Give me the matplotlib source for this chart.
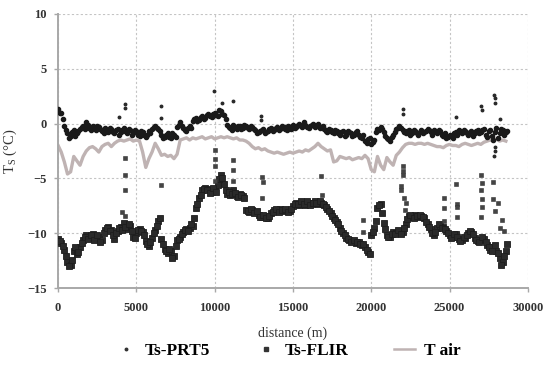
import numpy as np
import matplotlib.pyplot as plt

plt.rcParams['font.family'] = ['Liberation Serif', 'DejaVu Serif']

# surface temperatures, two interleaved samplings 100 m apart (200 m each)
step = 200
ts_prt5 = [1.3, 1.0, -0.2, -0.9, -1.1, -0.6, -0.9, -0.5, -0.2, 0.1,
           -0.4, -0.2, -0.6, -0.3, -0.7, -0.4, -0.8, -0.5, -0.9, -0.5,
           -0.8, -0.4, -0.9, -0.6, -0.9, -0.7, -1.1, -0.8, -1.2, -0.7,
           -0.5, -0.2, -0.5, -1.0, -1.2, -0.9, -1.3, -1.0, -0.3, 0.1,
           -0.4, -0.7, -0.2, 0.2, 0.5, 0.3, 0.7, 0.5, 0.9, 0.6,
           1.0, 0.7, 1.1, 0.8, -0.1, -0.4, -0.1, -0.5, -0.2, -0.4,
           -0.2, -0.5, -0.3, -0.6, -0.8, -0.6, -0.9, -0.7, -0.4, -0.6,
           -0.3, -0.5, -0.3, -0.6, -0.3, -0.1, -0.3, 0.0, -0.3, -0.1,
           -0.4, -0.1, -0.3, 0.0, -0.3, -0.5, -0.8, -0.6, -0.9, -0.7,
           -1.0, -0.7, -1.0, -0.8, -1.1, -0.8, -1.0, -1.3, -1.6, -1.4,
           -1.9, -1.5, -0.5, -0.3, -0.8, -1.3, -1.6, -1.0, -0.5, -0.2,
           -0.6, -0.9, -0.6, -0.9, -0.7, -1.0, -0.6, -0.8, -0.5, -0.8,
           -0.6, -0.9, -0.7, -1.1, -1.3, -1.0, -1.3, -0.8, -0.6, -0.9,
           -0.7, -1.0, -0.7, -0.9, -0.6, -0.8, -0.5, -1.2, -0.6, -1.5,
           -0.4, -0.9, -0.6, -0.8]
ts_prt5_b = [1.0, 0.4, -0.6, -1.3, -0.8, -1.1, -0.7, -0.3, -0.5, -0.1,
             -0.6, -0.4, -0.2, -0.5, -0.9, -0.6, -0.4, -0.8, -0.6, -1.0,
             -0.6, -0.7, -0.5, -1.0, -0.6, -1.0, -0.7, -1.0, -1.0, -0.9,
             -0.3, -0.4, -0.7, -1.3, -1.0, -1.2, -0.9, -1.2, -0.1, -0.2,
             -0.6, -0.4, -0.4, 0.4, 0.2, 0.6, 0.4, 0.8, 0.7, 0.9,
             0.8, 1.2, 0.9, 0.4, -0.3, -0.6, -0.3, -0.2, -0.5, -0.1,
             -0.4, -0.2, -0.5, -0.9, -0.7, -0.5, -0.8, -0.5, -0.7, -0.4,
             -0.6, -0.2, -0.5, -0.2, -0.5, -0.4, -0.1, -0.2, 0.1, -0.3,
             -0.2, 0.0, -0.2, -0.4, -0.2, -0.7, -0.5, -0.8, -0.6, -0.9,
             -0.8, -1.1, -0.7, -0.9, -1.0, -0.7, -1.2, -1.0, -1.8, -1.3,
             -1.7, -0.8, -0.6, -0.5, -1.1, -1.4, -1.2, -0.8, -0.4, -0.4,
             -0.8, -0.7, -1.0, -0.6, -0.9, -0.8, -0.9, -0.7, -0.6, -1.0,
             -0.7, -0.6, -1.0, -0.9, -1.2, -1.1, -0.9, -1.0, -0.8, -0.6,
             -0.9, -0.8, -1.1, -0.7, -0.9, -0.6, -1.0, -0.7, -1.1, -0.8,
             -1.3, -0.5, -1.0, -0.7]

ts_flir = [-10.5, -10.9, -11.5, -12.6, -12.9, -11.6, -11.9, -11.3, -10.6, -10.2,
           -10.4, -10.1, -10.5, -10.3, -10.6, -9.7, -9.4, -9.7, -10.5, -9.8,
           -9.4, -9.1, -9.6, -9.3, -10.3, -10.0, -9.6, -9.9, -10.7, -11.2,
           -10.4, -9.7, -8.9, -10.5, -11.4, -11.8, -11.6, -12.1, -10.6, -10.3,
           -9.9, -9.6, -9.5, -9.3, -7.7, -6.8, -6.1, -5.9, -6.0, -6.2,
           -6.1, -5.6, -4.7, -5.5, -6.4, -6.5, -6.1, -6.6, -6.4, -6.6,
           -7.9, -8.1, -7.9, -8.1, -8.3, -8.5, -8.4, -8.6, -8.2, -7.9,
           -8.0, -7.8, -8.0, -7.9, -8.0, -7.5, -7.2, -7.4, -7.2, -7.4,
           -7.2, -7.3, -7.1, -7.3, -7.2, -7.4, -7.8, -8.2, -8.6, -9.0,
           -9.5, -10.0, -10.4, -10.6, -10.7, -10.9, -10.8, -11.1, -11.3, -11.7,
           -10.2, -9.5, -7.7, -7.3, -9.1, -10.2, -10.3, -9.9, -10.0, -9.8,
           -9.9, -9.2, -8.4, -8.5, -8.3, -8.5, -8.4, -8.6, -9.2, -9.6,
           -10.2, -9.5, -9.3, -9.4, -9.8, -10.2, -10.3, -10.1, -10.5, -10.6,
           -10.4, -10.0, -9.9, -10.4, -10.7, -10.6, -10.5, -11.1, -11.5, -11.3,
           -11.6, -12.3, -12.6, -11.6]
ts_flir_b = [-10.7, -11.2, -12.1, -13.0, -12.4, -11.3, -11.7, -10.9, -10.3, -10.5,
             -10.2, -10.6, -10.2, -10.8, -10.0, -9.5, -9.8, -10.2, -10.0, -9.5,
             -9.7, -9.4, -9.2, -9.8, -10.4, -9.7, -9.8, -10.2, -11.0, -10.8,
             -10.0, -9.3, -8.6, -11.0, -11.6, -11.4, -12.3, -11.2, -10.5, -10.1,
             -9.7, -9.8, -9.2, -8.6, -7.3, -6.5, -6.0, -6.1, -6.3, -5.9,
             -6.2, -5.1, -5.0, -6.1, -6.2, -6.4, -6.3, -6.7, -6.5, -6.8,
             -8.0, -7.8, -8.2, -8.0, -8.5, -8.3, -8.6, -8.4, -8.1, -7.8,
             -8.1, -7.9, -7.8, -8.1, -7.8, -7.3, -7.3, -7.1, -7.3, -7.1,
             -7.4, -7.2, -7.2, -7.1, -7.3, -7.6, -8.0, -8.4, -8.8, -9.2,
             -9.8, -10.2, -10.5, -10.8, -10.6, -10.8, -11.0, -11.0, -11.5, -11.9,
             -9.9, -8.9, -7.4, -8.2, -9.6, -10.3, -10.1, -10.1, -9.7, -10.1,
             -9.5, -8.7, -8.3, -8.6, -8.4, -8.3, -8.5, -9.0, -9.4, -10.0,
             -9.9, -9.2, -9.5, -9.6, -10.0, -10.4, -10.1, -10.3, -10.7, -10.3,
             -10.2, -9.8, -10.1, -10.6, -10.8, -10.3, -10.8, -11.3, -11.6, -11.1,
             -11.8, -12.9, -12.1, -11.0]

t_air = [-2.0, -2.6, -3.5, -4.6, -4.4, -3.0, -3.4, -3.8, -3.0, -2.5,
         -2.2, -2.1, -2.3, -2.6, -2.1, -1.9, -1.8, -2.1, -1.8, -1.6,
         -1.5, -1.6, -1.5, -1.4, -1.6, -1.5, -1.6, -2.6, -4.0, -3.2,
         -2.6, -1.8, -2.3, -2.9, -2.8, -3.0, -2.9, -3.2, -2.8, -1.5,
         -1.4, -1.3, -1.5, -1.3, -1.4, -1.3, -1.2, -1.4, -1.3, -1.2,
         -1.4, -1.3, -1.2, -1.3, -1.2, -1.3, -1.4, -1.3, -1.5, -1.5,
         -1.6, -1.8, -2.1, -2.3, -2.2, -2.4, -2.3, -2.5, -2.6, -2.7,
         -2.6, -2.7, -2.8, -2.7, -2.6, -2.7, -2.6, -2.5, -2.6, -2.4,
         -2.5, -2.3, -2.1, -1.8, -2.1, -2.3, -2.5, -2.4, -3.5, -3.4,
         -3.0, -3.1, -3.2, -3.1, -3.3, -3.2, -3.1, -3.2, -2.9, -3.2,
         -4.2, -4.4, -3.0, -3.8, -4.2, -3.1, -3.5, -3.8, -2.9, -2.6,
         -2.2, -1.9, -1.8, -1.8, -1.9, -1.8, -1.8, -1.9, -1.8, -1.9,
         -2.0, -2.1, -2.1, -2.2, -2.0, -1.9, -2.0, -2.0, -2.1, -1.9,
         -1.8, -1.9, -2.0, -1.9, -1.8, -1.9, -1.7, -1.6, -1.5, -1.6,
         -1.4, -1.6, -1.5, -1.6]

# isolated points away from the main bands
prt5_out_x = [3900, 4250, 4250, 6550, 6550, 9950, 10500, 11150, 12950, 12950,
              22000, 22050, 25400, 27000, 27100, 27850, 27900, 27880, 27900,
              27850, 27900, 28200]
prt5_out_y = [0.6, 1.8, 1.4, 1.6, 0.5, 3.0, 1.9, 2.1, 0.7, 0.3,
              1.3, 0.9, 0.6, 1.6, 1.2, 2.6, 2.3, 1.9, -2.5, -3.0, -2.1, 0.4]

flir_out_x = [4250, 4250, 4250, 4100, 4300, 6550, 10000, 10000, 10000, 10000,
              11200, 11200, 11200, 13000, 13100, 13000, 16800, 16850, 19500, 19500,
              22000, 22000, 22000, 21900, 21900, 22100, 22200, 22150, 24650, 24650,
              24650, 25400, 25450, 25450, 25450, 27000, 27050, 27000, 27100, 27050,
              27000, 27800, 27750, 27900, 28200, 28350, 28100, 28500]
flir_out_y = [-3.1, -4.7, -6.1, -8.1, -8.4, -5.6, -2.4, -3.2, -3.9, -5.2,
              -3.3, -4.2, -5.2, -4.9, -5.3, -6.8, -4.8, -6.5, -8.8, -9.9,
              -3.9, -4.3, -4.7, -5.7, -6.1, -6.8, -7.2, -7.9, -6.8, -7.7,
              -8.9, -5.5, -7.3, -7.6, -8.5, -4.7, -5.4, -6.1, -6.9, -7.6,
              -8.5, -5.3, -6.9, -8.0, -9.5, -8.8, -7.2, -9.8]

dist = np.arange(len(ts_prt5)) * step
dist_b = dist + step / 2

fig = plt.figure(figsize=(5.43, 3.66), dpi=100)
ax = fig.add_axes([0.107, 0.213, 0.865, 0.749])

ax.plot(dist, t_air, color='#bfb3b3', lw=2.4, zorder=2)
for x, y in [(dist, ts_flir), (dist_b, ts_flir_b)]:
    ax.plot(x, y, ls='none', marker='s', ms=4.0, mec='#1e1e1e', mfc='#2a2a2a',
            mew=0.6, zorder=3)
ax.plot(flir_out_x, flir_out_y, ls='none', marker='s', ms=2.2, mec='#333333',
        mfc='#444444', mew=0.4, zorder=3)
for x, y in [(dist, ts_prt5), (dist_b, ts_prt5_b)]:
    ax.plot(x, y, ls='none', marker='o', ms=3.0, color='#1a1a1a', zorder=4)
ax.plot(prt5_out_x, prt5_out_y, ls='none', marker='o', ms=1.8, color='#2a2a2a', zorder=4)

ax.set_xlim(0, 30000)
ax.set_ylim(-15, 10)
ax.set_xticks(range(0, 30001, 5000))
ax.set_yticks(range(-15, 11, 5))
ax.grid(True, ls=(0, (2, 2)), color='#c4c4c4', lw=0.8)
ax.set_axisbelow(True)
for s in ['top', 'right']:
    ax.spines[s].set_visible(False)
for s in ['left', 'bottom']:
    ax.spines[s].set_color('#a8a8a8')
    ax.spines[s].set_linewidth(1.4)
ax.tick_params(colors='#a8a8a8', labelcolor='#333333', labelsize=9, length=3, width=1)
ax.tick_params(axis='x', pad=7)
ax.tick_params(axis='y', pad=5)
for lab in ax.get_xticklabels() + ax.get_yticklabels():
    lab.set_fontweight('bold')

ax.set_xlabel('distance (m)', fontsize=10, color='#333333', labelpad=9)
ax.set_ylabel('T$_\\mathregular{S}$ (°C)', fontsize=10.5, color='#333333', labelpad=6)

h1, = ax.plot([], [], ls='none', marker='o', ms=1.8, color='#333333')
h2, = ax.plot([], [], ls='none', marker='s', ms=2.4, color='#333333')
h3, = ax.plot([], [], color='#bfb3b3', lw=1.8)
fig.legend([h1, h2, h3], ['Ts-PRT5', 'Ts-FLIR', 'T air'], loc='center',
           bbox_to_anchor=(0.53, 0.042), ncol=3, frameon=False,
           columnspacing=2.6, handlelength=1.2, handletextpad=0.5,
           prop={'weight': 'bold', 'size': 12.5})

fig.savefig('out.png', dpi=100)
